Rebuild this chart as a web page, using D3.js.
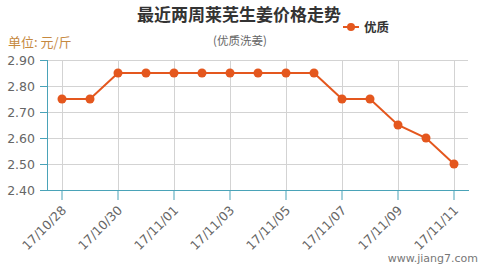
<!DOCTYPE html>
<html><head><meta charset="utf-8">
<script src="https://cdn.jsdelivr.net/npm/d3@7/dist/d3.min.js"></script>
<style>body{margin:0;background:#fff;}svg{display:block;font-family:"Noto Sans CJK SC","DejaVu Sans",sans-serif;}</style>
</head><body><svg id="c" width="486" height="268"></svg>
<script>
const dates = ["17/10/28","17/10/29","17/10/30","17/10/31","17/11/01","17/11/02","17/11/03","17/11/04","17/11/05","17/11/06","17/11/07","17/11/08","17/11/09","17/11/10","17/11/11"];
const prices = [2.75,2.75,2.85,2.85,2.85,2.85,2.85,2.85,2.85,2.85,2.75,2.75,2.65,2.60,2.50];
const yTicks = [2.40,2.50,2.60,2.70,2.80,2.90];
const seriesName = "优质";

const svg = d3.select("#c");
const L = 48, R = 468, T = 60, B = 190;
const x = d3.scaleBand().domain(dates).range([L, R]);
const y = d3.scaleLinear().domain([2.40, 2.90]).range([B, T]);
const cx = d => x(d) + x.bandwidth()/2;
const axisColor = "#4aa3b8", gridColor = "#d3d3d3", lineColor = "#e4571e";

// horizontal grid
svg.append("g").selectAll("line").data(yTicks.slice(1)).join("line")
  .attr("x1", L).attr("x2", R).attr("y1", d=>y(d)).attr("y2", d=>y(d))
  .attr("stroke", gridColor).attr("stroke-width", 1).attr("shape-rendering","crispEdges");
// vertical grid at ticked dates
const tickDates = dates.filter((d,i)=> i%2===0);
svg.append("g").selectAll("line").data(tickDates).join("line")
  .attr("x1", d=>Math.round(cx(d))+0.5).attr("x2", d=>Math.round(cx(d))+0.5).attr("y1", T).attr("y2", B)
  .attr("stroke", gridColor).attr("stroke-width", 1);

// y axis
const ya = svg.append("g").attr("transform", `translate(${L},0)`)
  .call(d3.axisLeft(y).tickValues(yTicks).tickFormat(d3.format(".2f")).tickSize(8).tickPadding(5));
ya.select(".domain").attr("stroke", axisColor).attr("d", `M-0.5,${T}V${B}`);
ya.selectAll(".tick line").attr("stroke", axisColor);
ya.selectAll(".tick text").attr("fill", "#666").attr("font-family","DejaVu Sans, sans-serif").attr("font-size", 12.5);

// x axis
const xa = svg.append("g").attr("transform", `translate(0,${B})`)
  .call(d3.axisBottom(x).tickValues(tickDates).tickSize(10).tickSizeOuter(0));
xa.select(".domain").attr("stroke", axisColor).attr("d", `M40,0.5H${R+1}`);
xa.selectAll(".tick line").attr("stroke", axisColor);
xa.selectAll(".tick text").attr("fill", "#666").attr("font-size", 12.5).attr("font-family","DejaVu Sans, sans-serif")
  .attr("text-anchor","end").attr("transform","translate(2,18) rotate(-45)").attr("dy","0.35em").attr("y",0);

// line
svg.append("path").datum(dates.map((d,i)=>[cx(d), y(prices[i])]))
  .attr("d", d3.line()).attr("fill","none").attr("stroke", lineColor).attr("stroke-width", 2);
svg.append("g").selectAll("circle").data(dates).join("circle")
  .attr("cx", d=>cx(d)).attr("cy", (d,i)=>y(prices[i])).attr("r", 4.5).attr("fill", lineColor);

// titles
svg.append("text").attr("x", 239).attr("y", 21).attr("text-anchor","middle").attr("font-size",17).attr("font-weight","bold").attr("fill","#333").text("最近两周莱芜生姜价格走势");
svg.append("text").attr("x", 240).attr("y", 45).attr("text-anchor","middle").attr("font-size",11.5).attr("fill","#666").text("(优质洗姜)");
svg.append("text").attr("x", 8).attr("y", 47).attr("font-size",13).attr("fill","#c6893f").text("单位: 元/斤");

// legend
svg.append("line").attr("x1",343).attr("x2",359).attr("y1",27).attr("y2",27).attr("stroke",lineColor).attr("stroke-width",2);
svg.append("circle").attr("cx",351).attr("cy",27).attr("r",4).attr("fill",lineColor);
svg.append("text").attr("x",364).attr("y",32).attr("font-size",12.5).attr("font-weight","bold").attr("fill","#333").text(seriesName);

// watermark
svg.append("text").attr("x",478).attr("y",262).attr("text-anchor","end").attr("font-size",11).attr("fill","#777").attr("font-family","DejaVu Sans, sans-serif").text("www.jiang7.com");
</script></body></html>
